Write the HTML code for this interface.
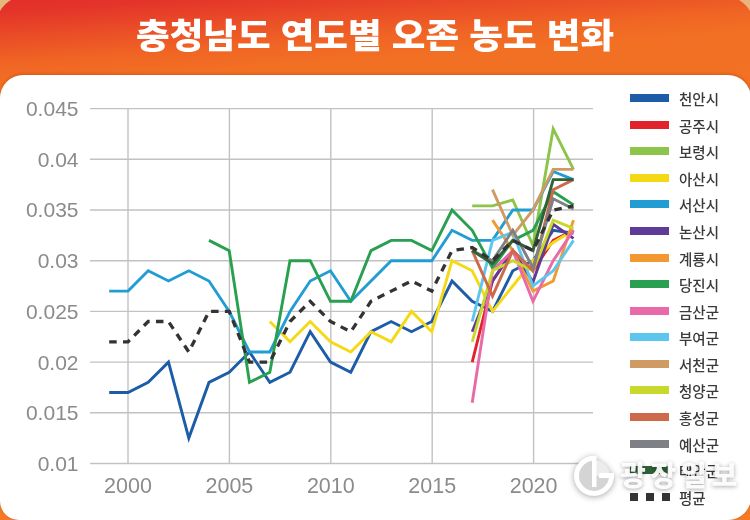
<!DOCTYPE html>
<html lang="ko"><head><meta charset="utf-8"><title>충청남도 연도별 오존 농도 변화</title>
<style>
html,body{margin:0;padding:0}
body{width:750px;height:520px;overflow:hidden;position:relative;background:#e7b67c;font-family:"Liberation Sans","Noto Sans CJK KR",sans-serif}
.outer{position:absolute;left:-4px;top:-4px;width:758px;height:540px;border-radius:30px;
 background:linear-gradient(176deg,#e22d2a 0px,#e4352a 18px,#ea4d27 42px,#f06524 68px,#f27024 90px,#f47a26 540px)}
.title{position:absolute;left:136.2px;top:9px;white-space:nowrap;color:#fff;font-family:"Noto Sans CJK KR",sans-serif;font-weight:900;font-size:34px;line-height:49px;transform:scaleX(1.075);transform-origin:0 0}
.panel{position:absolute;left:0;top:75px;width:751px;height:445px;background:#fff;border-radius:23px 23px 23px 19px;box-shadow:0 -1px 3px rgba(150,50,0,0.35)}
svg{position:absolute;left:0;top:0}
.grid line{stroke:#c2c2c2;stroke-width:1.4}
.yl text,.xl text{fill:#8b8b8b;font-family:"Liberation Sans",sans-serif;font-size:21px}
.ln polyline{fill:none;stroke-width:2.9;stroke-linejoin:miter;stroke-linecap:butt}
.ln polyline.dash{stroke-dasharray:7.5 6.3;stroke-width:3.3}
.lg{position:absolute;left:629.7px;width:39px;height:8px}
.bar{position:absolute;left:0;top:0;width:39px;height:8px}
.sq{position:absolute;top:0;width:8px;height:8px;background:#333}
.lt{position:absolute;left:679px;font-family:"Noto Sans CJK KR",sans-serif;font-size:14.5px;line-height:22px;color:#3a3a3a;font-weight:500}
.wm{position:absolute;left:620px;top:454px;font-family:"Noto Sans CJK KR",sans-serif;font-weight:900;font-size:28px;line-height:40px;color:rgba(255,255,255,0.93);text-shadow:0 1px 4px rgba(0,0,0,0.35);letter-spacing:4.7px}
.logo{position:absolute}
</style></head><body>
<div class="outer"></div>
<div class="title">충청남도 연도별 오존 농도 변화</div>
<div class="panel"></div>
<svg width="750" height="520" viewBox="0 0 750 520">
<g class="grid"><line x1="90" y1="108.6" x2="593" y2="108.6"/><line x1="90" y1="159.3" x2="593" y2="159.3"/><line x1="90" y1="210.0" x2="593" y2="210.0"/><line x1="90" y1="260.7" x2="593" y2="260.7"/><line x1="90" y1="311.4" x2="593" y2="311.4"/><line x1="90" y1="362.1" x2="593" y2="362.1"/><line x1="90" y1="412.8" x2="593" y2="412.8"/><line x1="90" y1="463.5" x2="593" y2="463.5"/><line x1="128.0" y1="108.6" x2="128.0" y2="463.5"/><line x1="229.4" y1="108.6" x2="229.4" y2="463.5"/><line x1="330.8" y1="108.6" x2="330.8" y2="463.5"/><line x1="432.2" y1="108.6" x2="432.2" y2="463.5"/><line x1="533.6" y1="108.6" x2="533.6" y2="463.5"/></g>
<g class="yl"><text x="78.5" y="116.0" text-anchor="end">0.045</text><text x="78.5" y="166.7" text-anchor="end">0.04</text><text x="78.5" y="217.4" text-anchor="end">0.035</text><text x="78.5" y="268.1" text-anchor="end">0.03</text><text x="78.5" y="318.8" text-anchor="end">0.025</text><text x="78.5" y="369.5" text-anchor="end">0.02</text><text x="78.5" y="420.2" text-anchor="end">0.015</text><text x="78.5" y="470.9" text-anchor="end">0.01</text></g>
<g class="xl"><text x="128.0" y="492.8" text-anchor="middle" style="font-size:21.5px">2000</text><text x="229.4" y="492.8" text-anchor="middle" style="font-size:21.5px">2005</text><text x="330.8" y="492.8" text-anchor="middle" style="font-size:21.5px">2010</text><text x="432.2" y="492.8" text-anchor="middle" style="font-size:21.5px">2015</text><text x="533.6" y="492.8" text-anchor="middle" style="font-size:21.5px">2020</text></g>
<g class="ln"><polyline points="109.2,392.5 128.0,392.5 148.2,382.4 168.5,362.1 188.8,438.1 209.0,382.4 229.2,372.2 249.5,352.0 269.8,382.4 290.0,372.2 310.2,331.7 330.5,362.1 350.8,372.2 371.0,331.7 391.2,321.5 411.5,331.7 431.8,321.5 452.0,281.0 472.2,301.3 492.5,311.4 512.8,270.8 533.0,260.7 553.2,230.3 573.5,233.3" stroke="#1d5ca6"/><polyline points="472.2,362.1 492.5,281.0 512.8,250.6 533.0,270.8 553.2,240.4 573.5,230.3" stroke="#e1222b"/><polyline points="472.2,205.9 492.5,205.9 512.8,199.9 533.0,245.5 553.2,128.9 573.5,169.4" stroke="#8dc44a"/><polyline points="269.8,321.5 290.0,341.8 310.2,321.5 330.5,341.8 350.8,352.0 371.0,331.7 391.2,341.8 411.5,311.4 431.8,331.7 452.0,260.7 472.2,270.8 492.5,311.4 512.8,286.0 533.0,260.7 553.2,242.4 573.5,230.3" stroke="#f6d916"/><polyline points="109.2,291.1 128.0,291.1 148.2,270.8 168.5,281.0 188.8,270.8 209.0,281.0 229.2,311.4 249.5,352.0 269.8,352.0 290.0,311.4 310.2,281.0 330.5,270.8 350.8,301.3 371.0,281.0 391.2,260.7 411.5,260.7 431.8,260.7 452.0,230.3 472.2,240.4 492.5,240.4 512.8,210.0 533.0,210.0 553.2,171.5 573.5,179.6" stroke="#229dd3"/><polyline points="472.2,331.7 492.5,281.0 512.8,250.6 533.0,282.0 553.2,224.2 573.5,238.4" stroke="#5d3b96"/><polyline points="492.5,220.1 512.8,250.6 533.0,291.1 553.2,281.0 573.5,220.1" stroke="#f29a31"/><polyline points="209.0,240.4 229.2,250.6 249.5,382.4 269.8,372.2 290.0,260.7 310.2,260.7 330.5,301.3 350.8,301.3 371.0,250.6 391.2,240.4 411.5,240.4 431.8,250.6 452.0,210.0 472.2,230.3 492.5,267.8 512.8,240.4 533.0,230.3 553.2,191.7 573.5,204.9" stroke="#28a04f"/><polyline points="472.2,402.7 492.5,270.8 512.8,250.6 533.0,301.3 553.2,260.7 573.5,230.3" stroke="#e96aa8"/><polyline points="472.2,321.5 492.5,240.4 512.8,232.3 533.0,286.0 553.2,270.8 573.5,240.4" stroke="#5ec6ee"/><polyline points="492.5,189.7 512.8,235.3 533.0,210.0 553.2,169.4 573.5,169.4" stroke="#cf9b62"/><polyline points="472.2,341.8 492.5,270.8 512.8,260.7 533.0,270.8 553.2,220.1 573.5,228.3" stroke="#c9d82c"/><polyline points="472.2,250.6 492.5,296.2 512.8,250.6 533.0,270.8 553.2,189.7 573.5,179.6" stroke="#cc6a4a"/><polyline points="472.2,250.6 492.5,260.7 512.8,230.3 533.0,267.8 553.2,198.8 573.5,209.0" stroke="#7e8085"/><polyline points="472.2,250.6 492.5,263.7 512.8,240.4 533.0,250.6 553.2,179.6 573.5,179.6" stroke="#2f6238"/><polyline class="dash" points="109.2,341.8 128.0,341.8 148.2,321.5 168.5,321.5 188.8,352.0 209.0,311.4 229.2,311.4 249.5,362.1 269.8,362.1 290.0,321.5 310.2,301.3 330.5,321.5 350.8,331.7 371.0,301.3 391.2,291.1 411.5,281.0 431.8,291.1 452.0,250.6 472.2,247.5 492.5,260.7 512.8,240.4 533.0,250.6 553.2,210.0 573.5,205.9" stroke="#333333"/></g>
</svg>
<div class="lg" style="top:94.0px"><span class="bar" style="background:#1d5ca6"></span></div><div class="lt" style="top:88.0px">천안시</div><div class="lg" style="top:120.6px"><span class="bar" style="background:#e1222b"></span></div><div class="lt" style="top:114.6px">공주시</div><div class="lg" style="top:147.2px"><span class="bar" style="background:#8dc44a"></span></div><div class="lt" style="top:141.2px">보령시</div><div class="lg" style="top:173.7px"><span class="bar" style="background:#f6d916"></span></div><div class="lt" style="top:167.7px">아산시</div><div class="lg" style="top:200.3px"><span class="bar" style="background:#229dd3"></span></div><div class="lt" style="top:194.3px">서산시</div><div class="lg" style="top:226.9px"><span class="bar" style="background:#5d3b96"></span></div><div class="lt" style="top:220.9px">논산시</div><div class="lg" style="top:253.5px"><span class="bar" style="background:#f29a31"></span></div><div class="lt" style="top:247.5px">계룡시</div><div class="lg" style="top:280.1px"><span class="bar" style="background:#28a04f"></span></div><div class="lt" style="top:274.1px">당진시</div><div class="lg" style="top:306.6px"><span class="bar" style="background:#e96aa8"></span></div><div class="lt" style="top:300.6px">금산군</div><div class="lg" style="top:333.2px"><span class="bar" style="background:#5ec6ee"></span></div><div class="lt" style="top:327.2px">부여군</div><div class="lg" style="top:359.8px"><span class="bar" style="background:#cf9b62"></span></div><div class="lt" style="top:353.8px">서천군</div><div class="lg" style="top:386.4px"><span class="bar" style="background:#c9d82c"></span></div><div class="lt" style="top:380.4px">청양군</div><div class="lg" style="top:413.0px"><span class="bar" style="background:#cc6a4a"></span></div><div class="lt" style="top:407.0px">홍성군</div><div class="lg" style="top:439.5px"><span class="bar" style="background:#7e8085"></span></div><div class="lt" style="top:433.5px">예산군</div><div class="lg" style="top:466.1px"><span class="bar" style="background:#2f6238"></span></div><div class="lt" style="top:460.1px">태안군</div><div class="lg" style="top:492.7px"><span class="sq" style="left:0"></span><span class="sq" style="left:16px"></span><span class="sq" style="left:32px"></span></div><div class="lt" style="top:486.7px">평균</div>
<svg class="logo" width="750" height="520" viewBox="0 0 750 520" style="left:0;top:0;filter:drop-shadow(0 1px 3px rgba(0,0,0,0.35))">
<path d="M594 476 L594 460 A16 16 0 1 0 610 476 Z" fill="#d4d4d4"/><path d="M594 476 L594 460 A16 16 0 0 1 610 476 Z" fill="#ececec"/>
<path d="M596 458.5 A17.5 17.5 0 1 0 611.5 476" fill="none" stroke="#fff" stroke-width="5"/>
<rect x="599" y="473" width="15" height="5" fill="#fff"/>
<rect x="592" y="456" width="4.5" height="31" fill="#fff"/>
</svg>
<div class="wm">광장일보</div>
</body></html>
